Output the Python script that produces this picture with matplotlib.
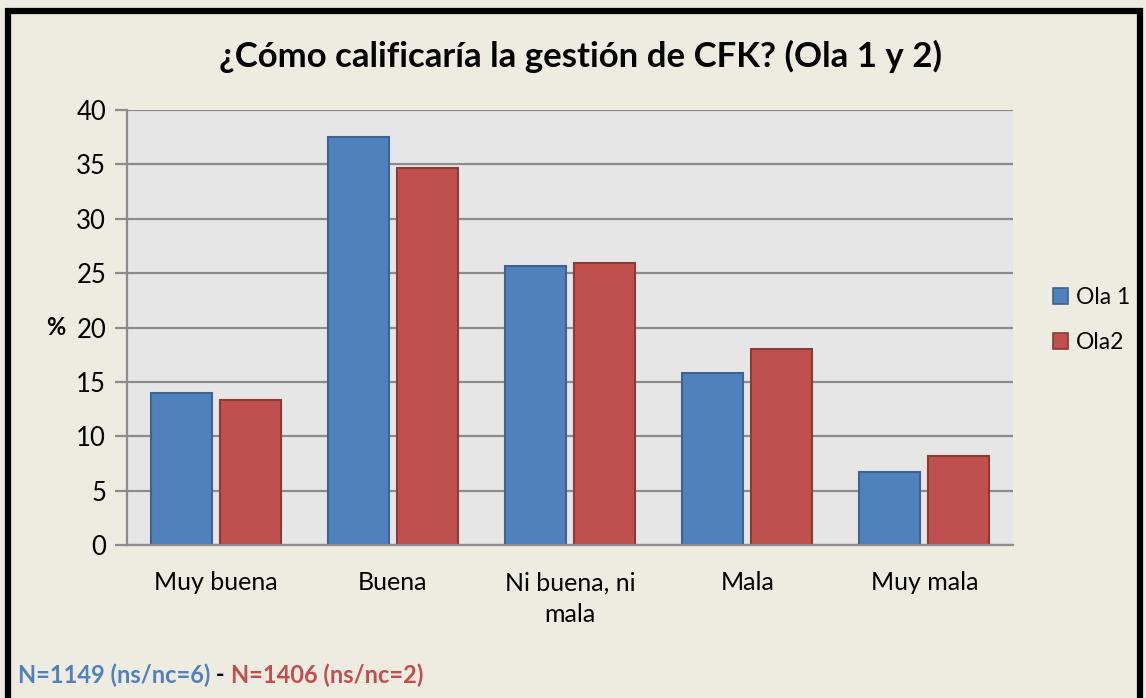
import matplotlib
matplotlib.use("Agg")
import matplotlib.pyplot as plt
import numpy as np
from matplotlib.patches import Rectangle, Patch

categories = ["Muy buena", "Buena", "Ni buena, ni\nmala", "Mala", "Muy mala"]
ola1 = [14.0, 37.5, 25.7, 15.8, 6.7]
ola2 = [13.3, 34.7, 25.9, 18.0, 8.2]
series_names = ["Ola 1", "Ola2"]
yticks = [0, 5, 10, 15, 20, 25, 30, 35, 40]

W, H = 1146, 698
plt.rcParams['font.family'] = ['Lato', 'DejaVu Sans']
fig = plt.figure(figsize=(W / 100, H / 100), dpi=100)
fig.patch.set_facecolor("#EEEBE0")

L, R, T, B = 127, 1013, 110, 545
ax = fig.add_axes([L / W, 1 - B / H, (R - L) / W, (B - T) / H])
ax.set_facecolor("#E6E6E6")

blue, red = "#4F81BD", "#C0504D"
blue_e, red_e = "#3A6592", "#8C3A38"
x = np.arange(len(categories))
bw = 0.344
gap = 0.045
ax.bar(x - (bw + gap) / 2, ola1, width=bw, color=blue, edgecolor=blue_e, linewidth=1.5, zorder=3)
ax.bar(x + (bw + gap) / 2, ola2, width=bw, color=red, edgecolor=red_e, linewidth=1.5, zorder=3)

ax.set_xlim(-0.5, len(categories) - 0.5)
ax.set_ylim(0, 40)
ax.set_yticks(yticks)
ax.set_yticklabels([str(v) for v in yticks], fontsize=18.5)
ax.yaxis.grid(True, color="#8C8C8C", linewidth=1.6, zorder=1)
ax.set_axisbelow(True)
ax.set_xticks(x)
ax.set_xticklabels(categories, fontsize=18, linespacing=1.45)
ax.tick_params(axis='x', length=0, pad=19)
ax.tick_params(axis='y', length=9, width=1.6, color="#8C8C8C", pad=6)
for s in ["top", "right"]:
    ax.spines[s].set_visible(False)
for s in ["left", "bottom"]:
    ax.spines[s].set_color("#8C8C8C")
    ax.spines[s].set_linewidth(1.6)
ax.spines["bottom"].set_zorder(4)

fig.text(56 / W, 1 - 328 / H, "%", fontsize=17, fontweight="bold", ha="center", va="center")
fig.text(580 / W, 1 - 56 / H, "¿Cómo calificaría la gestión de CFK? (Ola 1 y 2)",
         fontsize=25, fontweight="bold", ha="center", va="center")

handles = [Patch(facecolor=blue, edgecolor=blue_e, linewidth=1.2),
           Patch(facecolor=red, edgecolor=red_e, linewidth=1.2)]
fig.legend(handles, series_names, loc="center left", bbox_to_anchor=(1053 / W, 1 - 320 / H),
           frameon=False, fontsize=16.5, handlelength=0.65, handleheight=0.65,
           handletextpad=0.35, labelspacing=1.05, borderaxespad=0, borderpad=0)

# footer with multiple colors
fig.canvas.draw()
renderer = fig.canvas.get_renderer()
xpos = 18
parts = [("N=1149 (ns/nc=6)", blue), (" - ", "black"), ("N=1406 (ns/nc=2)", red)]
for txt, col in parts:
    t = fig.text(xpos / W, 1 - 675 / H, txt, fontsize=17, fontweight="bold", color=col,
                 ha="left", va="center")
    bb = t.get_window_extent(renderer)
    xpos += bb.width

fig.add_artist(Rectangle((8 / W, -0.05), (1140 - 8) / W, 1.05 - 11 / H, transform=fig.transFigure,
                         fill=False, edgecolor="black", linewidth=4.5))

fig.savefig("out.png", dpi=100, facecolor=fig.get_facecolor())
